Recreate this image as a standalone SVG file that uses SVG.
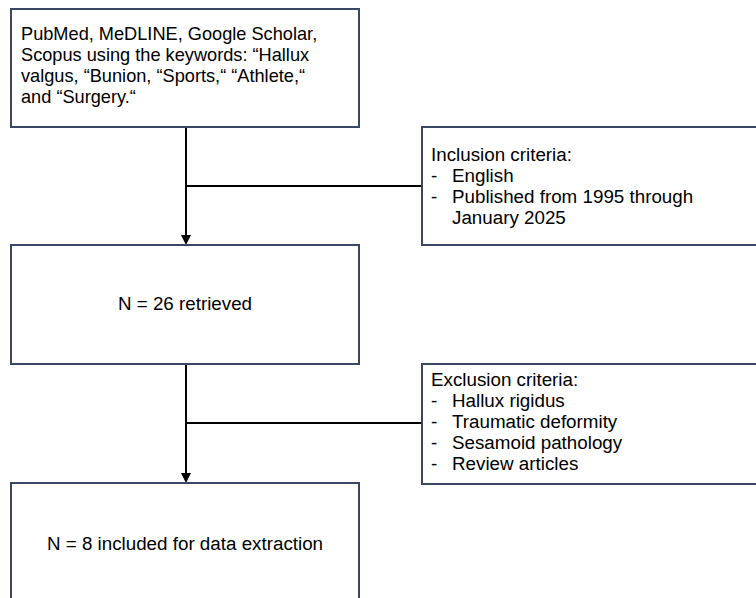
<svg xmlns="http://www.w3.org/2000/svg" width="756" height="598" viewBox="0 0 756 598">
<defs>
<style>
.box{fill:#fff;stroke:#3b4664;stroke-width:2}
.t{font-family:"Liberation Sans",Arial,sans-serif;font-size:18.8px;fill:#000}
.s1{font-size:18.2px}
.c{stroke:#000;stroke-width:2;fill:none}
.ah{fill:#000}
</style>
</defs>
<rect width="756" height="598" fill="#fff"/>
<g id="connectors">
<line class="c" x1="186" y1="127" x2="186" y2="236"/>
<path class="ah" d="M181,235 L191,235 L186,245 Z"/>
<line class="c" x1="186" y1="186" x2="422" y2="186"/>
<line class="c" x1="186" y1="364" x2="186" y2="474"/>
<path class="ah" d="M181,473 L191,473 L186,483 Z"/>
<line class="c" x1="186" y1="423" x2="422" y2="423"/>
</g>
<g id="search">
<rect class="box" x="11" y="9" width="348" height="118"/>
<text class="t s1" x="21" y="40">PubMed, MeDLINE, Google Scholar,</text>
<text class="t s1" x="21" y="61">Scopus using the keywords: “Hallux</text>
<text class="t s1" x="21" y="82">valgus, “Bunion, “Sports,“ “Athlete,“</text>
<text class="t s1" x="21" y="103">and “Surgery.“</text>
</g>
<g id="inclusion">
<rect class="box" x="422" y="127" width="345" height="118"/>
<text class="t" x="431" y="161">Inclusion criteria:</text>
<text class="t" x="431" y="182">-</text><text class="t" x="452" y="182">English</text>
<text class="t" x="431" y="203">-</text><text class="t" x="452" y="203">Published from 1995 through</text>
<text class="t" x="452" y="224">January 2025</text>
</g>
<g id="retrieved">
<rect class="box" x="11" y="245" width="348" height="119"/>
<text class="t" x="185" y="310" text-anchor="middle">N = 26 retrieved</text>
</g>
<g id="exclusion">
<rect class="box" x="422" y="364" width="345" height="120"/>
<text class="t" x="431" y="386">Exclusion criteria:</text>
<text class="t" x="431" y="407">-</text><text class="t" x="452" y="407">Hallux rigidus</text>
<text class="t" x="431" y="428">-</text><text class="t" x="452" y="428">Traumatic deformity</text>
<text class="t" x="431" y="449">-</text><text class="t" x="452" y="449">Sesamoid pathology</text>
<text class="t" x="431" y="470">-</text><text class="t" x="452" y="470">Review articles</text>
</g>
<g id="included">
<rect class="box" x="11" y="483" width="348" height="130"/>
<text class="t" x="185" y="550" text-anchor="middle">N = 8 included for data extraction</text>
</g>
</svg>
